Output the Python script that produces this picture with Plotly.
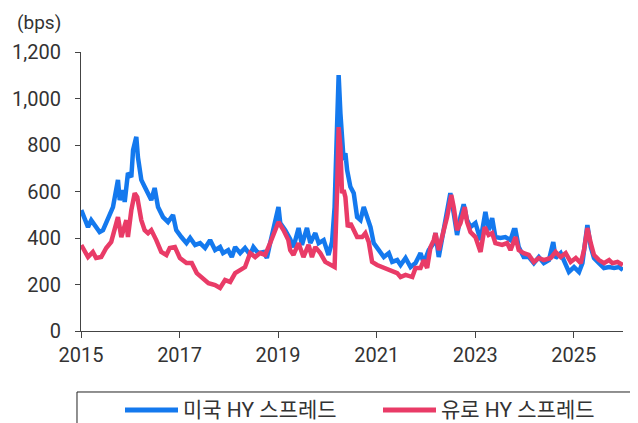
import plotly.graph_objects as go

# ---- data ----
series_names = ["미국 HY 스프레드", "유로 HY 스프레드"]

us_dates = [
    "2015-01-03", "2015-01-28", "2015-02-22", "2015-03-18", "2015-04-12", "2015-05-19", "2015-06-13",
    "2015-07-20", "2015-08-26", "2015-10-02", "2015-10-15", "2015-11-08", "2015-11-21", "2015-12-15",
    "2016-01-09", "2016-01-22", "2016-02-15", "2016-02-27", "2016-03-23", "2016-04-17", "2016-05-12",
    "2016-06-05", "2016-06-30", "2016-07-25", "2016-08-31", "2016-10-07", "2016-11-13", "2016-12-07",
    "2017-01-14", "2017-02-21", "2017-03-20", "2017-04-26", "2017-06-02", "2017-07-09", "2017-08-15",
    "2017-09-21", "2017-10-28", "2017-11-19", "2017-12-27", "2018-01-23", "2018-02-17", "2018-03-26",
    "2018-05-01", "2018-06-08", "2018-07-02", "2018-08-06", "2018-09-15", "2018-10-10", "2018-11-03",
    "2018-11-28", "2018-12-23", "2019-01-04", "2019-01-17", "2019-02-23", "2019-04-01", "2019-04-25",
    "2019-06-02", "2019-06-27", "2019-08-03", "2019-08-28", "2019-10-04", "2019-10-29", "2019-12-05",
    "2020-01-10", "2020-02-05", "2020-02-24", "2020-03-13", "2020-03-25", "2020-04-07", "2020-04-19",
    "2020-05-01", "2020-05-14", "2020-05-27", "2020-06-20", "2020-07-15", "2020-08-09", "2020-09-03",
    "2020-09-27", "2020-10-23", "2020-11-16", "2020-12-10", "2021-01-17", "2021-02-23", "2021-04-01",
    "2021-04-26", "2021-06-02", "2021-06-27", "2021-08-03", "2021-09-09", "2021-10-16", "2021-11-22",
    "2021-12-16", "2022-01-22", "2022-02-28", "2022-03-13", "2022-04-06", "2022-05-13", "2022-06-07",
    "2022-07-01", "2022-07-26", "2022-08-20", "2022-09-14", "2022-10-08", "2022-11-02", "2022-11-27",
    "2023-01-03", "2023-02-10", "2023-03-18", "2023-04-11", "2023-05-07", "2023-05-31", "2023-07-07",
    "2023-08-13", "2023-09-20", "2023-10-14", "2023-10-27", "2023-11-20", "2023-12-27", "2024-02-03",
    "2024-03-11", "2024-04-17", "2024-05-24", "2024-07-01", "2024-08-02", "2024-08-19", "2024-09-26",
    "2024-11-02", "2024-11-26", "2025-01-03", "2025-02-09", "2025-03-06", "2025-03-30", "2025-04-12",
    "2025-05-07", "2025-05-31", "2025-07-07", "2025-08-13", "2025-09-20", "2025-10-27", "2025-12-03",
    "2025-12-31",
]
us_hy = [
    520, 477, 447, 477, 456, 426, 434,
    490, 533, 650, 563, 606, 555, 680,
    662, 778, 835, 748, 650, 620, 593,
    563, 615, 533, 490, 469, 499, 434,
    404, 378, 400, 370, 378, 357, 391,
    348, 361, 335, 348, 318, 361, 335,
    357, 327, 361, 335, 340, 314, 378,
    434, 490, 533, 464, 434, 395, 361,
    443, 370, 443, 378, 421, 378, 391,
    327, 383, 533, 877, 1101, 937, 791,
    735, 765, 692, 620, 593, 490, 477,
    533, 490, 447, 378, 348, 318, 335,
    297, 305, 284, 314, 275, 292, 335,
    292, 348, 378, 421, 318, 447, 520,
    593, 507, 413, 490, 545, 477, 447,
    464, 391, 512, 434, 486, 404, 400,
    404, 391, 434, 434, 361, 318, 318,
    292, 318, 292, 305, 383, 314, 335,
    284, 254, 275, 254, 292, 404, 456,
    361, 314, 292, 271, 275, 271, 275,
    262,
]

eu_dates = [
    "2015-01-03", "2015-02-22", "2015-03-30", "2015-04-23", "2015-05-31", "2015-07-07", "2015-08-13",
    "2015-10-02", "2015-10-27", "2015-12-03", "2015-12-15", "2016-01-09", "2016-02-03", "2016-02-22",
    "2016-03-23", "2016-04-17", "2016-05-12", "2016-06-05", "2016-07-12", "2016-08-18", "2016-09-25",
    "2016-10-20", "2016-11-27", "2017-01-03", "2017-02-21", "2017-04-01", "2017-05-08", "2017-06-15",
    "2017-08-03", "2017-09-21", "2017-10-28", "2017-12-04", "2018-01-11", "2018-02-17", "2018-03-26",
    "2018-05-01", "2018-06-08", "2018-07-15", "2018-08-21", "2018-09-27", "2018-11-03", "2018-12-10",
    "2019-01-04", "2019-02-10", "2019-03-18", "2019-04-01", "2019-04-25", "2019-06-02", "2019-07-08",
    "2019-08-15", "2019-09-09", "2019-10-04", "2019-11-10", "2019-12-17", "2020-01-23", "2020-02-24",
    "2020-03-13", "2020-03-25", "2020-04-07", "2020-04-19", "2020-05-01", "2020-05-14", "2020-06-01",
    "2020-06-20", "2020-07-15", "2020-08-09", "2020-09-15", "2020-10-09", "2020-11-03", "2020-11-28",
    "2021-01-04", "2021-02-23", "2021-04-13", "2021-06-02", "2021-06-27", "2021-08-03", "2021-09-22",
    "2021-10-16", "2021-11-22", "2021-12-16", "2022-01-10", "2022-02-04", "2022-02-28", "2022-03-13",
    "2022-04-06", "2022-05-13", "2022-06-07", "2022-07-08", "2022-07-26", "2022-08-20", "2022-09-14",
    "2022-10-16", "2022-11-02", "2022-11-27", "2023-01-03", "2023-02-10", "2023-03-13", "2023-04-11",
    "2023-05-07", "2023-05-31", "2023-07-20", "2023-08-26", "2023-09-20", "2023-10-27", "2023-11-20",
    "2023-12-27", "2024-02-03", "2024-03-11", "2024-04-17", "2024-05-24", "2024-07-14", "2024-08-19",
    "2024-09-26", "2024-11-02", "2024-12-09", "2025-01-16", "2025-02-22", "2025-03-18", "2025-04-12",
    "2025-05-07", "2025-05-31", "2025-07-07", "2025-08-13", "2025-09-20", "2025-10-14", "2025-11-21",
    "2025-12-31",
]
eu_hy = [
    370, 318, 340, 314, 318, 357, 383,
    490, 404, 477, 404, 520, 593, 576,
    477, 434, 421, 434, 391, 340, 327,
    357, 361, 314, 292, 292, 249, 232,
    206, 198, 185, 219, 211, 249, 262,
    275, 335, 318, 335, 327, 378, 434,
    469, 434, 391, 348, 327, 378, 318,
    370, 318, 361, 335, 297, 284, 275,
    593, 877, 791, 593, 606, 576, 447,
    464, 434, 404, 404, 421, 383, 297,
    284, 271, 262, 249, 232, 241, 232,
    271, 271, 305, 271, 361, 391, 421,
    348, 434, 490, 585, 533, 434, 464,
    533, 469, 426, 404, 340, 447, 413,
    421, 378, 370, 378, 348, 404, 348,
    335, 327, 297, 314, 305, 314, 340,
    318, 335, 297, 314, 292, 348, 443,
    378, 327, 305, 292, 305, 292, 297,
    284,
]

y_ticks = [0, 200, 400, 600, 800, 1000, 1200]
x_ticks = ["2015-01-01", "2017-01-01", "2019-01-01", "2021-01-01", "2023-01-01", "2025-01-01"]
x_ticktext = ["2015", "2017", "2019", "2021", "2023", "2025"]

BLUE = "#1479EE"
RED = "#E93B67"
TXT = "#333333"
FONT = "Roboto, 'Noto Sans CJK KR', sans-serif"

fig = go.Figure()
fig.add_trace(go.Scatter(x=us_dates, y=us_hy, mode="lines", name=series_names[0],
                         line=dict(color=BLUE, width=4.5), showlegend=False))
fig.add_trace(go.Scatter(x=eu_dates, y=eu_hy, mode="lines", name=series_names[1],
                         line=dict(color=RED, width=4.5), showlegend=False))

# page body has an 8px margin, so the figure is 8px smaller than the window
fig.update_layout(
    width=630, height=415,
    margin=dict(l=73, r=15, t=44, b=92, autoexpand=False),
    paper_bgcolor="white", plot_bgcolor="white",
    font=dict(family=FONT, size=20, color=TXT),
    xaxis=dict(
        type="date", range=["2015-01-01", "2026-01-01"],
        tickvals=x_ticks, ticktext=x_ticktext, automargin=False,
        showgrid=False, zeroline=False,
        showline=True, linecolor="#444444", linewidth=1,
        ticks="outside", ticklen=6, tickcolor="#444444",
        tickfont=dict(size=20, color=TXT),
    ),
    yaxis=dict(
        range=[0, 1200], tickvals=y_ticks, tickformat=",d", separatethousands=True,
        automargin=False,
        showgrid=False, zeroline=False,
        showline=True, linecolor="#444444", linewidth=1,
        ticks="outside", ticklen=5, tickcolor="#444444",
        ticklabelstandoff=10,
        tickfont=dict(size=20, color=TXT),
    ),
)

# (bps) unit label
fig.add_annotation(text="(bps)", xref="paper", yref="paper", x=-0.078, y=1.105,
                   xanchor="center", yanchor="middle", showarrow=False,
                   font=dict(size=19, color=TXT))

# legend box and entries
fig.add_shape(type="rect", xref="paper", yref="paper", x0=-0.0074, x1=1.0185, y0=-0.2186, y1=-0.36,
              line=dict(color="#222222", width=1), fillcolor="rgba(0,0,0,0)")
leg_y = (331 - 410) / 279
for name, color, x0px in [(series_names[0], BLUE, 125), (series_names[1], RED, 383)]:
    fig.add_shape(type="line", xref="paper", yref="paper",
                  x0=(x0px - 81) / 542, x1=(x0px + 53 - 81) / 542, y0=leg_y, y1=leg_y,
                  line=dict(color=color, width=5))
    fig.add_annotation(text=name, xref="paper", yref="paper", x=(x0px + 56 - 81) / 542, y=leg_y,
                       xanchor="left", yanchor="middle", showarrow=False,
                       font=dict(size=21, color=TXT))

fig.write_html("out.html")
